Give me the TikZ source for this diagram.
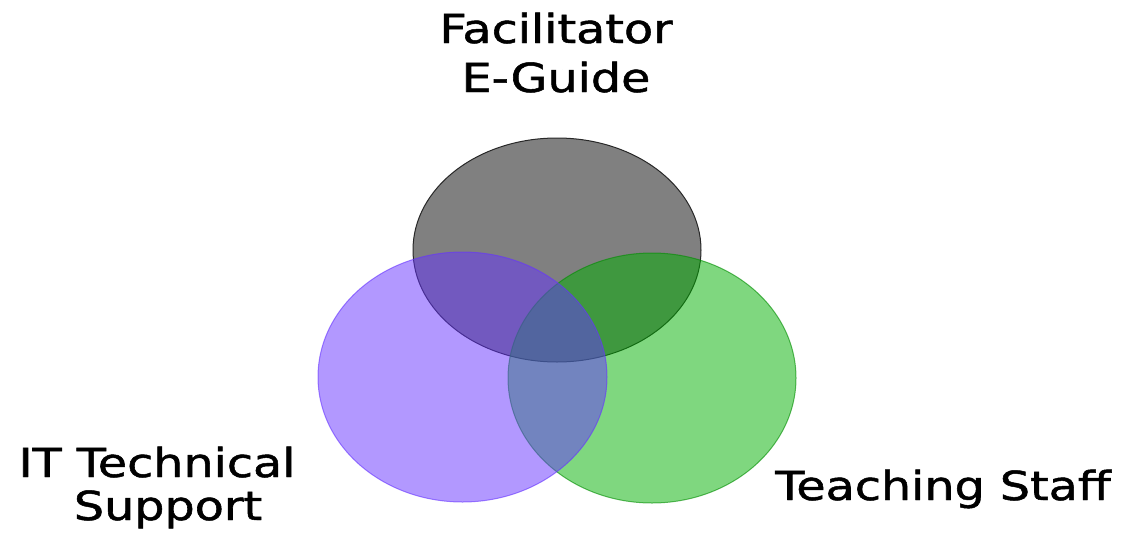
\documentclass[tikz,border=0pt]{standalone}
\usepackage{fontspec}
\setmainfont{DejaVu Sans}
\newfontfamily\lblfont[FakeBold=1.2]{DejaVu Sans}
\definecolor{grayfill}{RGB}{128,128,128}
\definecolor{grayline}{RGB}{40,40,40}
\definecolor{purplefill}{RGB}{102,51,255}
\definecolor{greenfill}{RGB}{0,176,0}
\tikzset{
  lbl/.style={font=\lblfont\fontsize{40}{48}\selectfont, text=black, inner sep=0pt, align=center},
  setgray/.style={fill=grayfill, draw=grayline, line width=1pt},
  setpurple/.style={fill=purplefill, fill opacity=0.5, draw=purplefill, draw opacity=0.6, line width=1pt},
  setgreen/.style={fill=greenfill, fill opacity=0.5, draw=greenfill!80!black, draw opacity=0.6, line width=1pt}
}
\newcommand{\wide}[1]{\scalebox{1.19}[1]{#1}}
\begin{document}
\begin{tikzpicture}[x=1pt,y=-1pt]
\useasboundingbox (0,0) rectangle (1122,538);
\fill[white] (0,0) rectangle (1122,538);
% sets
\draw[setgray] (557,250) ellipse [x radius=144, y radius=112];
\draw[setgreen] (652,378) ellipse [x radius=144, y radius=125];
\draw[setpurple] (462.5,377) ellipse [x radius=144.5, y radius=125];
% labels
\node[lbl, anchor=base] (fac) at (556,43) {\wide{Facilitator}};
\node[lbl, anchor=base] (eg) at (556,92) {\wide{E-Guide}};
\node[lbl, anchor=base] (it) at (157,477) {\wide{IT Technical}};
\node[lbl, anchor=base] (sup) at (168,520) {\wide{Support}};
\node[lbl, anchor=base] (ts) at (943,500) {\wide{Teaching Staff}};
\end{tikzpicture}
\end{document}
